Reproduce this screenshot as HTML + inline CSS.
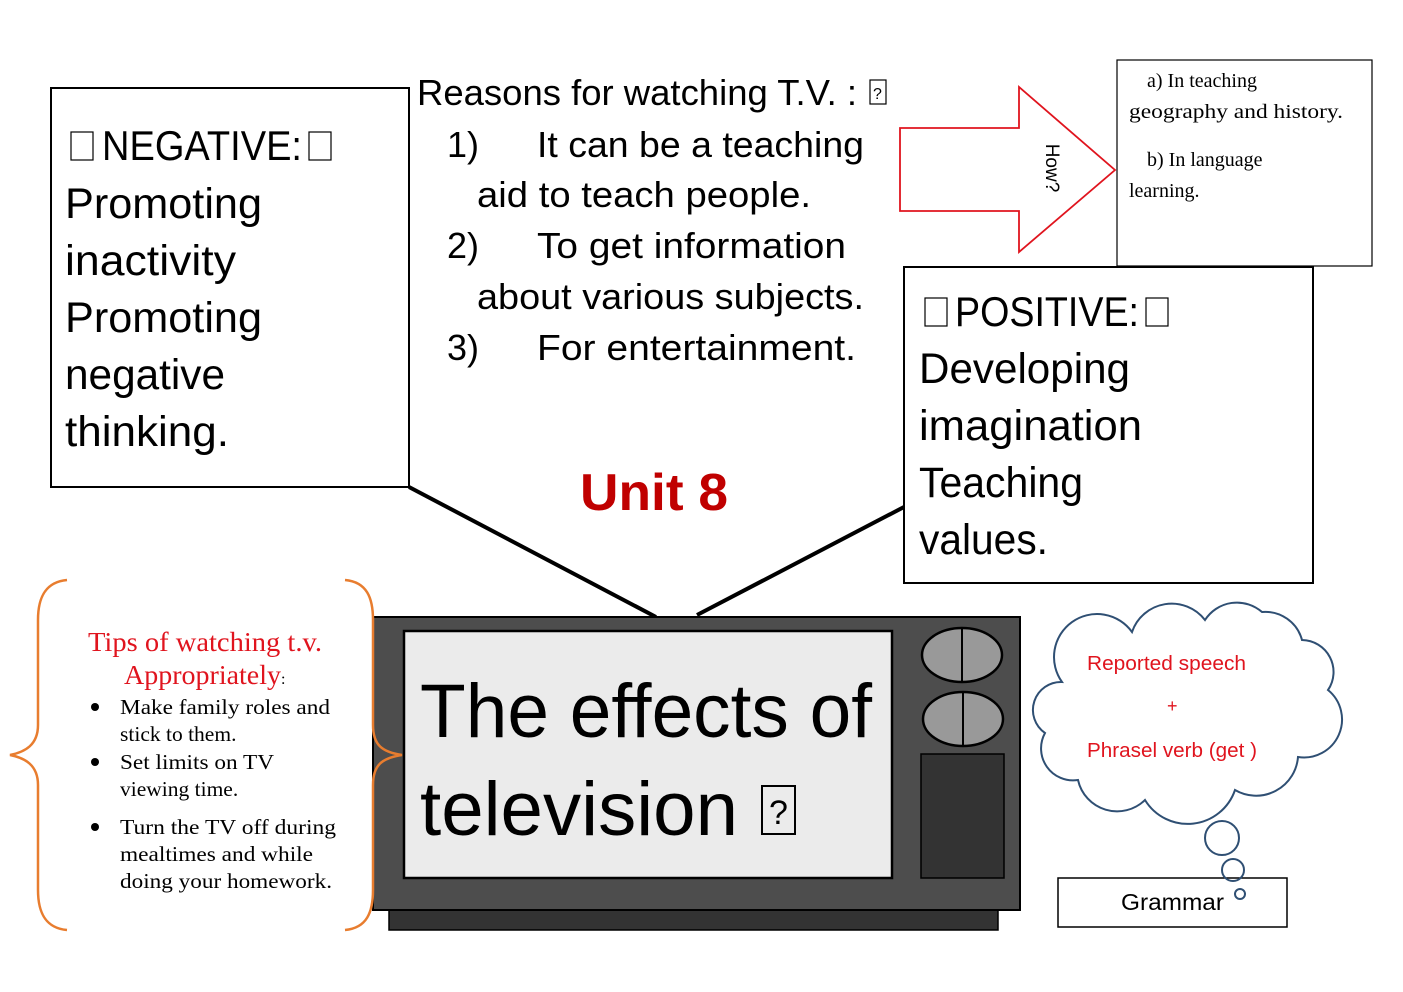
<!DOCTYPE html>
<html><head><meta charset="utf-8"><style>
html,body{margin:0;padding:0;background:#fff;}
svg{display:block;}
.c{font-family:"Liberation Sans",sans-serif;}
.t{font-family:"Liberation Serif",serif;}
</style></head><body>
<svg width="1403" height="992" viewBox="0 0 1403 992" xmlns="http://www.w3.org/2000/svg">
<rect width="1403" height="992" fill="#fff"/>
<!-- negative box -->
<rect x="51" y="88" width="358" height="399" fill="#fff" stroke="#000" stroke-width="2"/>
<rect x="71" y="132" width="22" height="28" fill="none" stroke="#000" stroke-width="1.2"/>
<text class="c" x="102" y="160" font-size="42" textLength="200" lengthAdjust="spacingAndGlyphs">NEGATIVE:</text>
<rect x="309" y="132" width="22" height="28" fill="none" stroke="#000" stroke-width="1.2"/>
<g class="c" font-size="43">
<text x="65" y="218" textLength="197" lengthAdjust="spacingAndGlyphs">Promoting</text>
<text x="65" y="275" textLength="171" lengthAdjust="spacingAndGlyphs">inactivity</text>
<text x="65" y="332" textLength="197" lengthAdjust="spacingAndGlyphs">Promoting</text>
<text x="65" y="389" textLength="160" lengthAdjust="spacingAndGlyphs">negative</text>
<text x="65" y="446" textLength="164" lengthAdjust="spacingAndGlyphs">thinking.</text>
</g>
<!-- reasons -->
<g class="c" font-size="36">
<text x="417" y="105" textLength="440" lengthAdjust="spacingAndGlyphs">Reasons for watching T.V. :</text>
<text x="447" y="157">1)</text>
<text x="537" y="157" textLength="327" lengthAdjust="spacingAndGlyphs">It can be a teaching</text>
<text x="477" y="207" textLength="334" lengthAdjust="spacingAndGlyphs">aid to teach people.</text>
<text x="447" y="258">2)</text>
<text x="537" y="258" textLength="309" lengthAdjust="spacingAndGlyphs">To get information</text>
<text x="477" y="309" textLength="387" lengthAdjust="spacingAndGlyphs">about various subjects.</text>
<text x="447" y="360">3)</text>
<text x="537" y="360" textLength="319" lengthAdjust="spacingAndGlyphs">For entertainment.</text>
</g>
<rect x="870" y="80" width="16" height="24" fill="none" stroke="#000" stroke-width="1.2"/>
<text class="c" x="873" y="99" font-size="16">?</text>
<!-- arrow -->
<path d="M900,128 L1019,128 L1019,87 L1115,170 L1019,252 L1019,211 L900,211 Z" fill="#fff" stroke="#e0141e" stroke-width="1.8"/>
<text class="c" x="1046" y="168" font-size="19" transform="rotate(90 1046 168)" text-anchor="middle">How?</text>
<!-- top-right box -->
<rect x="1117" y="60" width="255" height="206" fill="#fff" stroke="#000" stroke-width="1.2"/>
<g class="t" font-size="20">
<text x="1147" y="87">a) In teaching</text>
<text x="1129" y="118" textLength="214" lengthAdjust="spacingAndGlyphs">geography and history.</text>
<text x="1147" y="166">b) In language</text>
<text x="1129" y="197">learning.</text>
</g>
<!-- positive box -->
<rect x="904" y="267" width="409" height="316" fill="#fff" stroke="#000" stroke-width="2"/>
<rect x="925" y="298" width="22" height="28" fill="none" stroke="#000" stroke-width="1.2"/>
<text class="c" x="955" y="326" font-size="42" textLength="184" lengthAdjust="spacingAndGlyphs">POSITIVE:</text>
<rect x="1146" y="298" width="22" height="28" fill="none" stroke="#000" stroke-width="1.2"/>
<g class="c" font-size="43">
<text x="919" y="383" textLength="211" lengthAdjust="spacingAndGlyphs">Developing</text>
<text x="919" y="440" textLength="223" lengthAdjust="spacingAndGlyphs">imagination</text>
<text x="919" y="497" textLength="164" lengthAdjust="spacingAndGlyphs">Teaching</text>
<text x="919" y="554" textLength="129" lengthAdjust="spacingAndGlyphs">values.</text>
</g>
<!-- Unit 8 -->
<text class="c" x="580" y="510" font-size="52" font-weight="bold" fill="#c00000" textLength="148" lengthAdjust="spacingAndGlyphs">Unit 8</text>
<!-- connectors -->
<line x1="409" y1="487" x2="656" y2="617" stroke="#000" stroke-width="4"/>
<line x1="904" y1="507" x2="697" y2="615" stroke="#000" stroke-width="4"/>
<!-- TV -->
<rect x="389" y="908" width="609" height="22" fill="#333" stroke="#000" stroke-width="1.5"/>
<rect x="373" y="617" width="647" height="293" fill="#4d4d4d" stroke="#000" stroke-width="2"/>
<rect x="404" y="631" width="488" height="247" fill="#ebebeb" stroke="#000" stroke-width="2.5"/>
<text class="c" x="420" y="737" font-size="76" textLength="452" lengthAdjust="spacingAndGlyphs">The effects of</text>
<text class="c" x="420" y="835" font-size="76" textLength="318" lengthAdjust="spacingAndGlyphs">television</text>
<rect x="762" y="786" width="33" height="48" fill="none" stroke="#000" stroke-width="2"/>
<text class="c" x="769" y="824" font-size="34">?</text>
<ellipse cx="962" cy="655" rx="40" ry="27" fill="#999" stroke="#000" stroke-width="2.5"/>
<line x1="962" y1="628" x2="962" y2="682" stroke="#000" stroke-width="2"/>
<ellipse cx="963" cy="719" rx="40" ry="27" fill="#999" stroke="#000" stroke-width="2.5"/>
<line x1="963" y1="692" x2="963" y2="746" stroke="#000" stroke-width="2"/>
<rect x="921" y="754" width="83" height="124" fill="#333" stroke="#000" stroke-width="1.5"/>
<!-- braces -->
<path d="M67,580 C45,582 38,598 38,620 L38,725 C38,745 25,752 10,755 C25,758 38,765 38,785 L38,890 C38,912 45,928 67,930" fill="none" stroke="#e87d2f" stroke-width="2.5"/>
<path d="M345,580 C367,582 373,598 373,620 L373,725 C373,745 382,752 402,755 C382,758 373,765 373,785 L373,890 C373,912 367,928 345,930" fill="none" stroke="#e87d2f" stroke-width="2.5"/>
<!-- tips -->
<g class="t">
<text x="88" y="651" font-size="27" fill="#e0141e" textLength="234" lengthAdjust="spacingAndGlyphs">Tips of watching t.v.</text>
<text x="124" y="684" font-size="27" fill="#e0141e" textLength="157" lengthAdjust="spacingAndGlyphs">Appropriately</text>
<text x="281" y="684" font-size="16">:</text>
<g font-size="21.5">
<circle cx="95" cy="707" r="4"/>
<text x="120" y="714" textLength="210" lengthAdjust="spacingAndGlyphs">Make family roles and</text>
<text x="120" y="741">stick to them.</text>
<circle cx="95" cy="762" r="4"/>
<text x="120" y="769" textLength="154" lengthAdjust="spacingAndGlyphs">Set limits on TV</text>
<text x="120" y="796">viewing time.</text>
<circle cx="95" cy="827" r="4"/>
<text x="120" y="834" textLength="216" lengthAdjust="spacingAndGlyphs">Turn the TV off during</text>
<text x="120" y="861" textLength="193" lengthAdjust="spacingAndGlyphs">mealtimes and while</text>
<text x="120" y="888" textLength="212" lengthAdjust="spacingAndGlyphs">doing your homework.</text>
</g>
</g>
<!-- cloud -->
<path d="M1062,682 A38,38 0 0 1 1132,632 A42,42 0 0 1 1205,620 A38,38 0 0 1 1262,612 A38,38 0 0 1 1302,640 A32,32 0 0 1 1328,690 A38,38 0 0 1 1298,757 A42,42 0 0 1 1235,790 A50,50 0 0 1 1145,800 A40,40 0 0 1 1078,780 A32,32 0 0 1 1045,733 A28,28 0 0 1 1062,682 Z" fill="#fff" stroke="#2f4f73" stroke-width="2"/>
<circle cx="1222" cy="838" r="17" fill="#fff" stroke="#2f4f73" stroke-width="2"/>
<g class="c" font-size="20" fill="#e0141e">
<text x="1087" y="670" textLength="159" lengthAdjust="spacingAndGlyphs">Reported speech</text>
<text x="1167" y="712" font-size="18">+</text>
<text x="1087" y="757" textLength="170" lengthAdjust="spacingAndGlyphs">Phrasel verb (get )</text>
</g>
<!-- grammar -->
<rect x="1058" y="878" width="229" height="49" fill="#fff" stroke="#000" stroke-width="1.5"/>
<text class="c" x="1121" y="910" font-size="23" textLength="103" lengthAdjust="spacingAndGlyphs">Grammar</text>
<circle cx="1233" cy="870" r="11" fill="none" stroke="#2f4f73" stroke-width="2"/>
<circle cx="1240" cy="894" r="5" fill="#fff" stroke="#2f4f73" stroke-width="2"/>
</svg>
</body></html>
